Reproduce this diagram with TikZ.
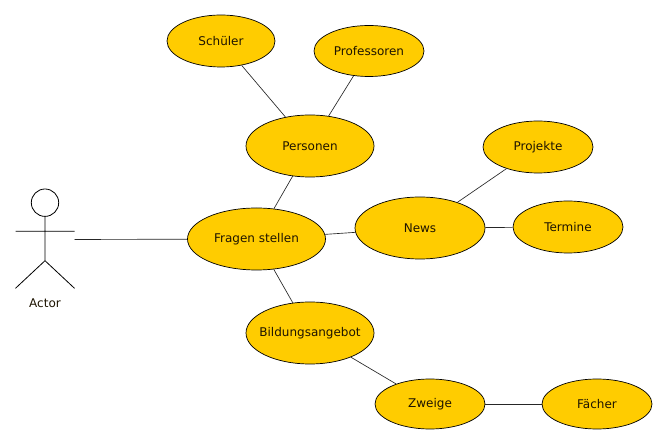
\documentclass[tikz,border=0pt]{standalone}
\usepackage{fontspec}
\setmainfont{DejaVu Sans}
\usetikzlibrary{shapes.geometric}
\definecolor{ucfill}{RGB}{255,204,0}
\definecolor{uctext}{RGB}{30,20,0}
\newcommand{\uclabel}[1]{\makebox[0pt][c]{#1}}
\tikzset{
  uc/.style={ellipse,draw=black,fill=ucfill,line width=0.7pt,minimum width=#1,inner sep=0pt,text=uctext,font=\fontsize{12}{14}\selectfont},
  lnk/.style={draw=black!85,line width=0.65pt},
  stick/.style={draw=black,line width=0.8pt}
}
\begin{document}
\begin{tikzpicture}[x=1pt,y=-1pt]
\useasboundingbox (0,0) rectangle (667,443);
\fill[white] (0,0) rectangle (667,443);
\coordinate (actorhand) at (74.5,239.5);
\node[uc=108pt,minimum height=52pt] (schueler) at (221,41) {\uclabel{Schüler}};
\node[uc=110pt,minimum height=51pt] (prof) at (369,51) {\uclabel{Professoren}};
\node[uc=128pt,minimum height=62pt] (pers) at (310,146) {\uclabel{Personen}};
\node[uc=138pt,minimum height=62pt] (frag) at (256.5,239) {\uclabel{Fragen stellen}};
\node[uc=130pt,minimum height=62pt] (news) at (420,228) {\uclabel{News}};
\node[uc=110pt,minimum height=52pt] (proj) at (538,147) {\uclabel{Projekte}};
\node[uc=110pt,minimum height=52pt] (term) at (568,227) {\uclabel{Termine}};
\node[uc=128pt,minimum height=62pt] (bild) at (310,333) {\uclabel{Bildungsangebot}};
\node[uc=110pt,minimum height=50pt] (zweige) at (430,404) {\uclabel{Zweige}};
\node[uc=110pt,minimum height=50pt] (faecher) at (597,404) {\uclabel{Fächer}};
\draw[lnk] (actorhand) -- (frag);
\draw[lnk] (schueler) -- (pers);
\draw[lnk] (prof) -- (pers);
\draw[lnk] (pers) -- (frag);
\draw[lnk] (frag) -- (news);
\draw[lnk] (news) -- (proj);
\draw[lnk] (news) -- (term);
\draw[lnk] (frag) -- (bild);
\draw[lnk] (bild) -- (zweige);
\draw[lnk] (zweige) -- (faecher);
\draw[stick] (45,202.7) circle (13.7);
\draw[stick] (45,216.4) -- (45,260.7) (15.5,231.3) -- (74.5,231.3) (45,260.7) -- (15.5,288.3) (45,260.7) -- (74.5,288.3);
\node[font=\fontsize{12}{14}\selectfont,text=uctext] (actor) at (45,303) {Actor};
\end{tikzpicture}
\end{document}
